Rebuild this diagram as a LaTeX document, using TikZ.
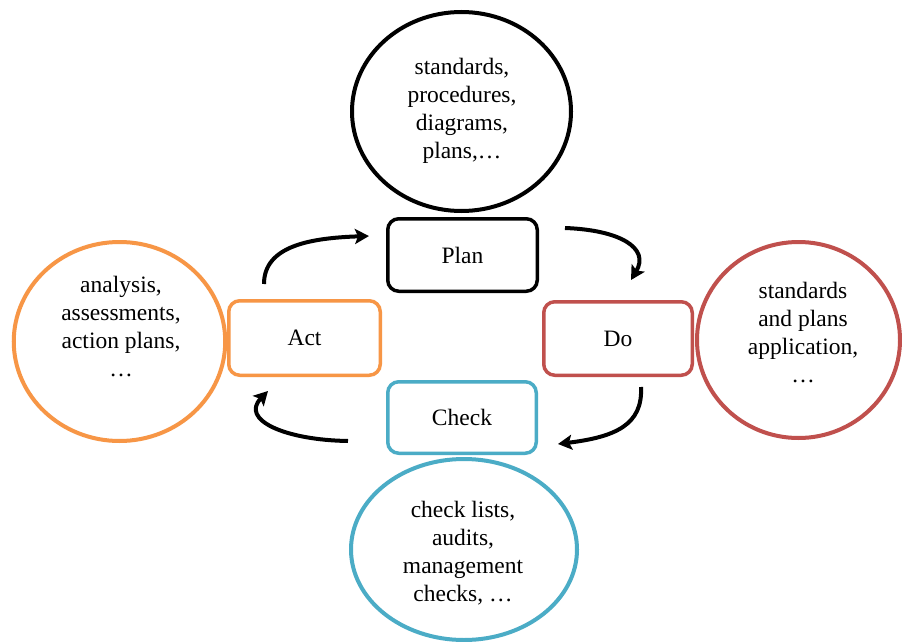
\documentclass[tikz,border=0pt]{standalone}
\usepackage{fontspec}
\setmainfont{Liberation Serif}
\usetikzlibrary{shapes.geometric,arrows.meta}
\definecolor{cOrange}{HTML}{F79646}
\definecolor{cRed}{HTML}{C0504D}
\definecolor{cTeal}{HTML}{4BACC6}
\begin{document}
\begin{tikzpicture}[x=1pt,y=-1pt,
  bubble/.style={ellipse, draw, line width=4pt, inner sep=0pt},
  stagebox/.style={draw, rounded corners=11pt, line width=3.5pt, inner sep=0pt,
    font=\fontsize{23.5}{28}\selectfont},
  bubbletext/.style={align=center, inner sep=0pt, font=\fontsize{23.5}{28}\selectfont},
  cyclearrow/.style={line width=4pt, -{Stealth[length=14pt,width=15pt,inset=3pt]}}]
\useasboundingbox (0,0) rectangle (902,642);
\fill[white] (0,0) rectangle (902,642);

% bubbles
\node[bubble, black, minimum width=219pt, minimum height=199pt] (ptop) at (461.5,111.5) {};
\node[bubble, cOrange, minimum width=211.5pt, minimum height=199pt] (pleft) at (119.5,341.5) {};
\node[bubble, cRed, minimum width=203pt, minimum height=196pt] (pright) at (798.5,340) {};
\node[bubble, cTeal, minimum width=226pt, minimum height=181pt] (pbottom) at (464,549.5) {};

\node[bubbletext] (ttop) at (462,111) {standards,\\procedures,\\diagrams,\\plans,…};
\node[bubbletext] (tleft) at (121,327) {analysis,\\assessments,\\action plans,\\…};
\node[bubbletext] (tright) at (803,333) {standards\\and plans\\application,\\…};
\node[bubbletext] (tbottom) at (463,553) {check lists,\\audits,\\management\\checks, …};

% stage boxes
\node[stagebox, black, minimum width=149.5pt, minimum height=72.5pt] (plan) at (462.5,255) {\textcolor{black}{Plan}};
\node[stagebox, cOrange, minimum width=151.5pt, minimum height=74.5pt] (act) at (304.5,338) {\textcolor{black}{Act}};
\node[stagebox, cRed, minimum width=148.5pt, minimum height=73.5pt] (do) at (618,338.5) {\textcolor{black}{Do}};
\node[stagebox, cTeal, minimum width=148.5pt, minimum height=71.5pt] (check) at (462,417.5) {\textcolor{black}{Check}};

% arrow end points
\coordinate (a1s) at (264,284);
\coordinate (a1e) at (369,236);
\coordinate (a2s) at (565,228);
\coordinate (a2e) at (631,280);
\coordinate (a3s) at (641,387);
\coordinate (a3e) at (558,444);
\coordinate (a4s) at (348,441);
\coordinate (a4e) at (268,391);

\draw[cyclearrow] (a1s) .. controls (264,246) and (310,238) .. (a1e);
\draw[cyclearrow] (a2s) .. controls (620,230) and (650,248) .. (a2e);
\draw[cyclearrow] (a3s) .. controls (643,425) and (615,437) .. (a3e);
\draw[cyclearrow] (a4s) .. controls (285,440) and (240,420) .. (a4e);
\end{tikzpicture}
\end{document}
